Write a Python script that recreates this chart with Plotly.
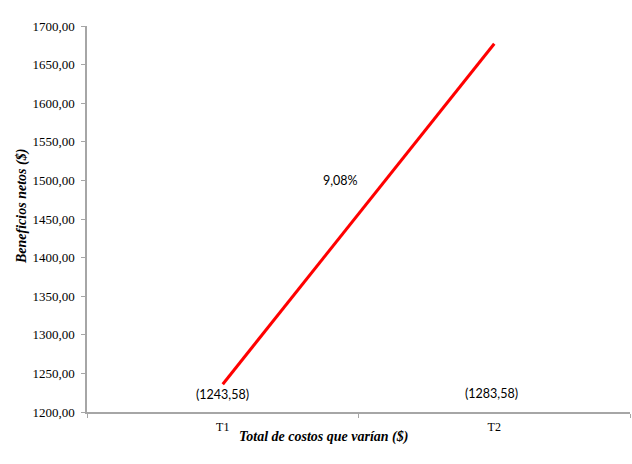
import plotly.graph_objects as go

categories = ["T1", "T2"]
beneficios = [1236.0, 1677.0]
y_ticks = [1200, 1250, 1300, 1350, 1400, 1450, 1500, 1550, 1600, 1650, 1700]
y_tick_labels = [f"{v:.2f}".replace(".", ",") for v in y_ticks]
point_labels = ["(1243,58)", "(1283,58)"]
pct_label = "9,08%"

W, H = 632, 464
ml, mr, mt, mb = 87, 2, 26, 52

fig = go.Figure()
fig.add_trace(go.Scatter(
    x=categories, y=beneficios, mode="lines",
    line=dict(color="#ff0000", width=3), showlegend=False, hoverinfo="skip"))

ann_font = dict(family="Lato, Open Sans, sans-serif", size=12.5, color="#000000")
fig.add_annotation(x=0, y=1223, xref="x", yref="y", text=point_labels[0],
                   showarrow=False, font=ann_font)
fig.add_annotation(x=0.99, y=1224, xref="x", yref="y", text=point_labels[1],
                   showarrow=False, font=ann_font)
fig.add_annotation(x=0.435, y=1500, xref="x", yref="y", text=pct_label,
                   showarrow=False, font=ann_font)

serif = "Liberation Serif, Times New Roman, serif"
fig.add_annotation(x=(323 - ml) / (W - ml - mr), y=(412 - 437) / (H - mt - mb),
                   xref="paper", yref="paper", yanchor="middle",
                   text="<b><i>Total de costos que varían ($)</i></b>",
                   showarrow=False, font=dict(family=serif, size=14, color="#000"))
fig.add_annotation(x=-(ml - 22) / (W - ml - mr), y=(412 - 207) / (H - mt - mb),
                   xref="paper", yref="paper", textangle=-90,
                   xanchor="center", yanchor="middle",
                   text="<b><i>Beneficios netos ($)</i></b>",
                   showarrow=False, font=dict(family=serif, size=14, color="#000"))

fig.update_layout(
    width=W, height=H,
    margin=dict(l=ml, r=mr, t=mt, b=mb),
    paper_bgcolor="white", plot_bgcolor="white",
    font=dict(family=serif, size=12, color="#000"),
    xaxis=dict(
        type="category", range=[-0.5, 1.5], showgrid=False,
        showline=True, linecolor="#a6a6a6", linewidth=1.5,
        ticks="outside", tickson="boundaries", ticklen=4, tickcolor="#a6a6a6",
        tickfont=dict(family=serif, size=12, color="#000"),
        ticklabelstandoff=3,
    ),
    yaxis=dict(
        range=[1200, 1700], tickvals=y_ticks, ticktext=y_tick_labels,
        showgrid=False, zeroline=False,
        showline=True, linecolor="#a6a6a6", linewidth=1.5,
        ticks="outside", ticklen=4, tickcolor="#a6a6a6",
        tickfont=dict(family=serif, size=13, color="#000"),
        ticklabelstandoff=4,
    ),
)

fig.write_html("out.html")
